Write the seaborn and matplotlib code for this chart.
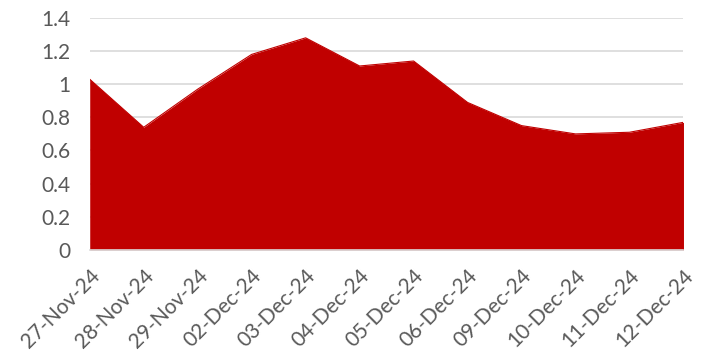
import matplotlib
matplotlib.use('Agg')
import matplotlib.pyplot as plt
import seaborn as sns
import pandas as pd

# data
dates = ['27-Nov-24', '28-Nov-24', '29-Nov-24', '02-Dec-24', '03-Dec-24', '04-Dec-24',
         '05-Dec-24', '06-Dec-24', '09-Dec-24', '10-Dec-24', '11-Dec-24', '12-Dec-24']
values = [1.03, 0.74, 0.97, 1.18, 1.28, 1.11, 1.14, 0.89, 0.75, 0.70, 0.71, 0.77]
y_ticks = [0, 0.2, 0.4, 0.6, 0.8, 1, 1.2, 1.4]
y_tick_labels = ['0', '0.2', '0.4', '0.6', '0.8', '1', '1.2', '1.4']

sns.set_style('white')
plt.rcParams['font.family'] = ['Lato', 'DejaVu Sans']

df = pd.DataFrame({'pos': range(len(dates)), 'value': values})

fig = plt.figure(figsize=(7.01, 3.59), dpi=100)
ax = fig.add_axes([0.128, 0.304, 0.847, 0.646])

red = '#C00000'
grey_line = '#D9D9D9'
grey_text = '#595959'

ax.fill_between(df['pos'], 0, df['value'], color=red, linewidth=0, zorder=2)
sns.lineplot(data=df, x='pos', y='value', color=red, linewidth=0.8, ax=ax, zorder=3)

ax.set_xlim(0, len(dates) - 1)
ax.set_ylim(0, 1.4)
ax.set_yticks(y_ticks)
ax.set_yticklabels(y_tick_labels, fontsize=15, color=grey_text)
ax.set_xticks(df['pos'])
ax.set_xticklabels(dates, rotation=45, ha='right', rotation_mode='anchor',
                   fontsize=15, color=grey_text)

ax.grid(axis='y', color=grey_line, linewidth=1.2, zorder=0)
ax.set_axisbelow(True)
for side in ['top', 'right', 'left']:
    ax.spines[side].set_visible(False)
ax.spines['bottom'].set_color(grey_line)
ax.spines['bottom'].set_linewidth(1.2)
ax.spines['bottom'].set_zorder(4)

ax.tick_params(axis='x', length=6, width=1.2, color=grey_line, pad=5)
ax.tick_params(axis='y', length=0, pad=14)
ax.set_xlabel('')
ax.set_ylabel('')

fig.savefig('out.png', dpi=100)
